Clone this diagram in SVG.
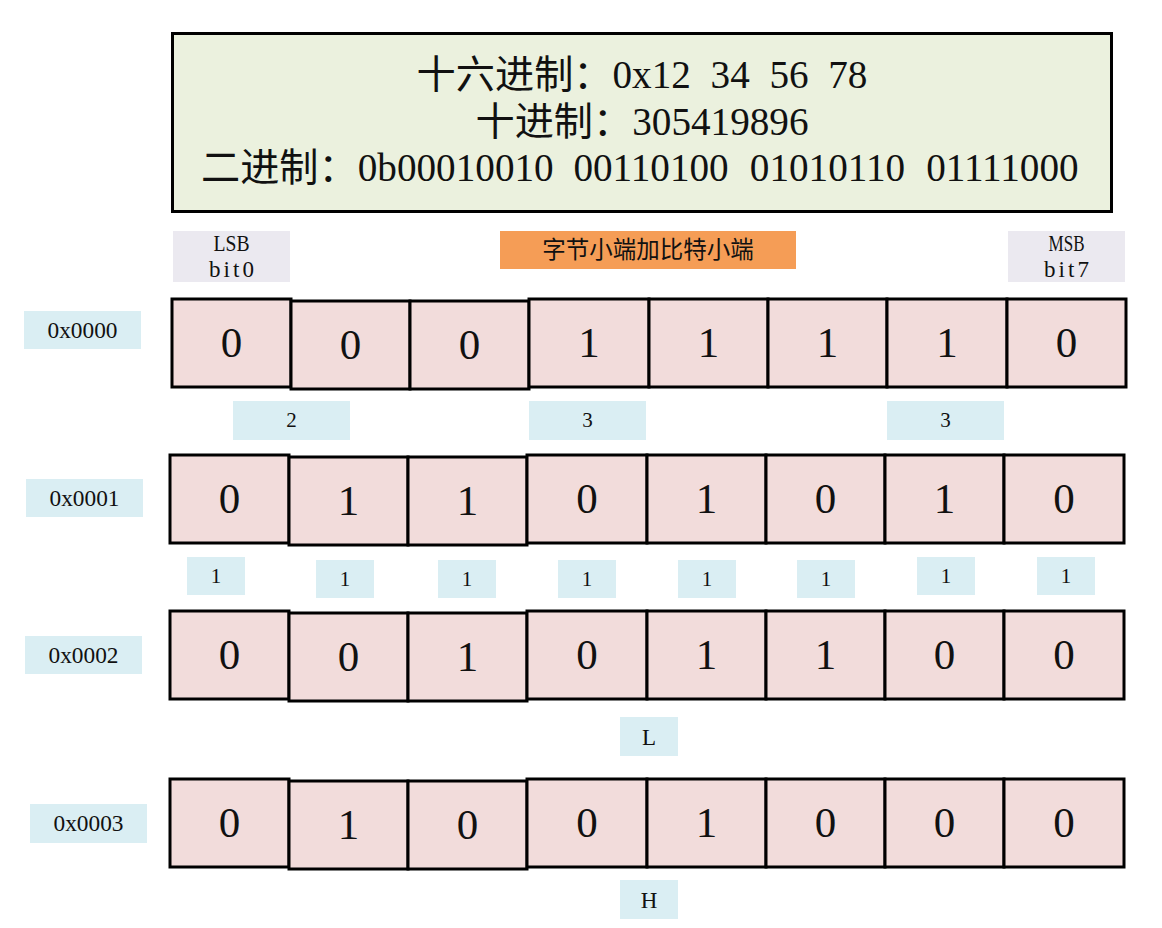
<svg xmlns="http://www.w3.org/2000/svg" width="1162" height="928" viewBox="0 0 1162 928">
<style>
text{font-family:"Liberation Serif","Noto Sans CJK SC",serif;fill:#111}
.title{font-size:39.2px}
.cell{fill:#F2DCDB;stroke:#000;stroke-width:3}
.cv{font-size:43px;text-anchor:middle}
.lb{fill:#DAEEF3}
.lg{fill:#EBE9F0}
.lt{font-size:21px;text-anchor:middle}
.ht{font-size:23px;text-anchor:middle}
</style>
<rect width="1162" height="928" fill="#fff"/>
<g id="header">
<rect x="172.5" y="33.5" width="939" height="178" fill="#EBF1DE" stroke="#000" stroke-width="3"/>
<text class="title" y="88"><tspan x="416.6">十六进制：0x12</tspan> <tspan x="710.6">34</tspan> <tspan x="769.4">56</tspan> <tspan x="828.2">78</tspan></text>
<text class="title" x="642" y="135" text-anchor="middle">十进制：305419896</text>
<text class="title" y="181"><tspan x="201">二进制：0b00010010</tspan> <tspan x="573.4">00110100</tspan> <tspan x="749.8">01010110</tspan> <tspan x="926.2">01111000</tspan></text>
</g>
<g id="lsb">
<rect class="lg" x="173" y="231" width="117" height="51"/>
<text class="ht" x="231.5" y="251" textLength="36" lengthAdjust="spacingAndGlyphs">LSB</text>
<text class="ht" x="231.5" y="277" textLength="45" lengthAdjust="spacing">bit0</text>
</g>
<g id="title-endian">
<rect x="500" y="231" width="296" height="38" fill="#F59D56"/>
<text x="648" y="258" font-size="23.5" text-anchor="middle" fill="#222">字节小端加比特小端</text>
</g>
<g id="msb">
<rect class="lg" x="1008" y="231" width="117" height="51"/>
<text class="ht" x="1066.5" y="251" textLength="36" lengthAdjust="spacingAndGlyphs">MSB</text>
<text class="ht" x="1066.5" y="277" textLength="45" lengthAdjust="spacing">bit7</text>
</g>
<g id="addr0">
<rect class="lb" x="24" y="311" width="117" height="38"/>
<text class="ht" x="82.5" y="338" textLength="70" lengthAdjust="spacingAndGlyphs">0x0000</text>
</g>
<g id="row0">
<rect class="cell" x="172" y="299" width="119" height="88"/><text class="cv" x="231.5" y="357">0</text>
<rect class="cell" x="291" y="301" width="119" height="88"/><text class="cv" x="350.5" y="359">0</text>
<rect class="cell" x="410" y="301" width="119" height="88"/><text class="cv" x="469.5" y="359">0</text>
<rect class="cell" x="529" y="299" width="120" height="88"/><text class="cv" x="589" y="357">1</text>
<rect class="cell" x="649" y="299" width="119" height="88"/><text class="cv" x="708.5" y="357">1</text>
<rect class="cell" x="768" y="299" width="119" height="88"/><text class="cv" x="827.5" y="357">1</text>
<rect class="cell" x="887" y="299" width="120" height="88"/><text class="cv" x="947" y="357">1</text>
<rect class="cell" x="1007" y="299" width="119" height="88"/><text class="cv" x="1066.5" y="357">0</text>
</g>
<g id="count-a">
<rect class="lb" x="233" y="401" width="117" height="39"/><text class="lt" x="291.5" y="427">2</text>
<rect class="lb" x="529" y="401" width="117" height="39"/><text class="lt" x="587.5" y="427">3</text>
<rect class="lb" x="887" y="401" width="117" height="39"/><text class="lt" x="945.5" y="427">3</text>
</g>
<g id="addr1">
<rect class="lb" x="26" y="479" width="117" height="38"/>
<text class="ht" x="84.5" y="506" textLength="70" lengthAdjust="spacingAndGlyphs">0x0001</text>
</g>
<g id="row1">
<rect class="cell" x="170" y="455" width="119" height="88"/><text class="cv" x="229.5" y="513">0</text>
<rect class="cell" x="289" y="457" width="119" height="88"/><text class="cv" x="348.5" y="515">1</text>
<rect class="cell" x="408" y="457" width="119" height="88"/><text class="cv" x="467.5" y="515">1</text>
<rect class="cell" x="527" y="455" width="120" height="88"/><text class="cv" x="587" y="513">0</text>
<rect class="cell" x="647" y="455" width="119" height="88"/><text class="cv" x="706.5" y="513">1</text>
<rect class="cell" x="766" y="455" width="119" height="88"/><text class="cv" x="825.5" y="513">0</text>
<rect class="cell" x="885" y="455" width="119" height="88"/><text class="cv" x="944.5" y="513">1</text>
<rect class="cell" x="1004" y="455" width="120" height="88"/><text class="cv" x="1064" y="513">0</text>
</g>
<g id="count-b">
<rect class="lb" x="187" y="557" width="58" height="38"/><text class="lt" x="216" y="583">1</text>
<rect class="lb" x="316" y="560" width="58" height="38"/><text class="lt" x="345" y="586">1</text>
<rect class="lb" x="438" y="560" width="58" height="38"/><text class="lt" x="467" y="586">1</text>
<rect class="lb" x="558" y="560" width="58" height="38"/><text class="lt" x="587" y="586">1</text>
<rect class="lb" x="678" y="560" width="58" height="38"/><text class="lt" x="707" y="586">1</text>
<rect class="lb" x="797" y="560" width="58" height="38"/><text class="lt" x="826" y="586">1</text>
<rect class="lb" x="917" y="557" width="58" height="38"/><text class="lt" x="946" y="583">1</text>
<rect class="lb" x="1037" y="557" width="58" height="38"/><text class="lt" x="1066" y="583">1</text>
</g>
<g id="addr2">
<rect class="lb" x="25" y="636" width="117" height="38"/>
<text class="ht" x="83.5" y="663" textLength="70" lengthAdjust="spacingAndGlyphs">0x0002</text>
</g>
<g id="row2">
<rect class="cell" x="170" y="611" width="119" height="88"/><text class="cv" x="229.5" y="669">0</text>
<rect class="cell" x="289" y="613" width="119" height="88"/><text class="cv" x="348.5" y="671">0</text>
<rect class="cell" x="408" y="613" width="119" height="88"/><text class="cv" x="467.5" y="671">1</text>
<rect class="cell" x="527" y="611" width="120" height="88"/><text class="cv" x="587" y="669">0</text>
<rect class="cell" x="647" y="611" width="119" height="88"/><text class="cv" x="706.5" y="669">1</text>
<rect class="cell" x="766" y="611" width="119" height="88"/><text class="cv" x="825.5" y="669">1</text>
<rect class="cell" x="885" y="611" width="119" height="88"/><text class="cv" x="944.5" y="669">0</text>
<rect class="cell" x="1004" y="611" width="120" height="88"/><text class="cv" x="1064" y="669">0</text>
</g>
<g id="low">
<rect class="lb" x="620" y="717" width="58" height="39"/><text class="ht" x="649" y="745">L</text>
</g>
<g id="addr3">
<rect class="lb" x="30" y="804" width="117" height="39"/>
<text class="ht" x="88.5" y="831" textLength="70" lengthAdjust="spacingAndGlyphs">0x0003</text>
</g>
<g id="row3">
<rect class="cell" x="170" y="779" width="119" height="88"/><text class="cv" x="229.5" y="837">0</text>
<rect class="cell" x="289" y="781" width="119" height="88"/><text class="cv" x="348.5" y="839">1</text>
<rect class="cell" x="408" y="781" width="119" height="88"/><text class="cv" x="467.5" y="839">0</text>
<rect class="cell" x="527" y="779" width="120" height="88"/><text class="cv" x="587" y="837">0</text>
<rect class="cell" x="647" y="779" width="119" height="88"/><text class="cv" x="706.5" y="837">1</text>
<rect class="cell" x="766" y="779" width="119" height="88"/><text class="cv" x="825.5" y="837">0</text>
<rect class="cell" x="885" y="779" width="119" height="88"/><text class="cv" x="944.5" y="837">0</text>
<rect class="cell" x="1004" y="779" width="120" height="88"/><text class="cv" x="1064" y="837">0</text>
</g>
<g id="high">
<rect class="lb" x="620" y="880" width="58" height="39"/><text class="ht" x="649" y="908">H</text>
</g>
</svg>
